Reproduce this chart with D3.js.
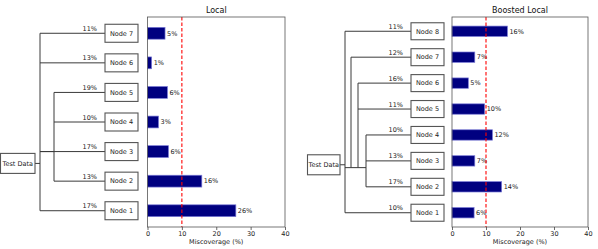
<!DOCTYPE html>
<html>
<head>
<meta charset="utf-8">
<script src="https://cdn.jsdelivr.net/npm/d3@7"></script>
<style>
    body { margin: 0; background: #fff; }
    svg { display: block; font-family: "DejaVu Sans", sans-serif; }
</style>
</head>
<body>
<svg id="chart" width="598" height="249"></svg>
<script>
// Local model: tree leaves listed top to bottom
var localNodes = ["Node 7", "Node 6", "Node 5", "Node 4", "Node 3", "Node 2", "Node 1"];
var localMiscoverage = [5.1, 1.2, 5.8, 3.2, 6.1, 15.8, 25.7];
var localLabels = ["5%", "1%", "6%", "3%", "6%", "16%", "26%"];
var localSplit = ["11%", "13%", "19%", "10%", "17%", "13%", "17%"];
var localLevel = [0, 0, 1, 1, 0, 1, 0];

// Boosted local model
var boostedNodes = ["Node 8", "Node 7", "Node 6", "Node 5", "Node 4", "Node 3", "Node 2", "Node 1"];
var boostedMiscoverage = [16.3, 6.7, 4.8, 9.6, 11.9, 6.7, 14.6, 6.5];
var boostedLabels = ["16%", "7%", "5%", "10%", "12%", "7%", "14%", "6%"];
var boostedSplit = ["11%", "12%", "16%", "11%", "10%", "13%", "17%", "10%"];
var boostedLevel = [0, 1, 2, 2, 3, 3, 3, 0];

var xTicks = [0, 10, 20, 30, 40];
var target = 10;

var svg = d3.select("#chart");

draw_panel({
    title: "Local", nodes: localNodes, values: localMiscoverage, labels: localLabels,
    split: localSplit, level: localLevel,
    rootPos: 1.6, joinPos: 2, levelOffset: [5, 19],
    rootX: 0, rootW: 35, boxX: 105, boxW: 33, boxH: 18,
    plotLeft: 147.5, plotRight: 285
});

draw_panel({
    title: "Boosted Local", nodes: boostedNodes, values: boostedMiscoverage, labels: boostedLabels,
    split: boostedSplit, level: boostedLevel,
    rootPos: 1.85, joinPos: 1.74, levelOffset: [5, 11, 18, 26],
    rootX: 307, rootW: 33, boxX: 411, boxW: 33, boxH: 17,
    plotLeft: 452, plotRight: 588
});

function draw_panel(cfg) {
    var n = cfg.nodes.length;
    var top = 17, bottom = 227;

    // position 0 is the bottom leaf
    var y = d3.scaleLinear().domain([-0.55, n - 1 + 0.55]).range([bottom, top]);
    var x = d3.scaleLinear().domain([0, 40]).range([cfg.plotLeft, cfg.plotRight]);
    var pos = function(i) { return n - 1 - i; };

    var g = svg.append("g");

    // ---- tree ----
    var trunkX = cfg.levelOffset.map(function(o) { return cfg.rootX + cfg.rootW + o; });
    var rootY = y(cfg.rootPos);
    var joinY = y(cfg.joinPos);

    var tree = g.append("g").attr("stroke", "#3a3a3a").attr("stroke-width", 1).attr("fill", "none");

    trunkX.forEach(function(tx, lv) {
        var ys = [];
        cfg.level.forEach(function(l, i) { if (l === lv) ys.push(y(pos(i))); });
        ys.push(joinY);
        tree.append("line")
            .attr("x1", tx).attr("x2", tx)
            .attr("y1", d3.min(ys)).attr("y2", d3.max(ys));
    });

    // connector across trunks
    tree.append("line")
        .attr("x1", trunkX[0]).attr("x2", trunkX[trunkX.length - 1])
        .attr("y1", joinY).attr("y2", joinY);

    // root to first trunk
    tree.append("line")
        .attr("x1", cfg.rootX + cfg.rootW).attr("x2", trunkX[0])
        .attr("y1", rootY).attr("y2", rootY);

    // branches to leaves
    cfg.nodes.forEach(function(name, i) {
        var yy = y(pos(i));
        tree.append("line")
            .attr("x1", trunkX[cfg.level[i]]).attr("x2", cfg.boxX)
            .attr("y1", yy).attr("y2", yy);
        g.append("text")
            .attr("x", cfg.boxX - 8).attr("y", yy - 2.5)
            .attr("text-anchor", "end")
            .attr("font-size", 6.5).attr("fill", "#222")
            .text(cfg.split[i]);
    });

    // root box
    g.append("rect")
        .attr("x", cfg.rootX + 0.5).attr("y", rootY - 10)
        .attr("width", cfg.rootW - 0.5).attr("height", 20)
        .attr("fill", "#fff").attr("stroke", "#555").attr("stroke-width", 1.1);
    g.append("text")
        .attr("x", cfg.rootX + cfg.rootW / 2 + 0.3).attr("y", rootY + 2.3)
        .attr("text-anchor", "middle").attr("font-size", 6.5).attr("fill", "#222")
        .text("Test Data");

    // leaf boxes
    var leaf = g.selectAll(".leaf").data(cfg.nodes).enter().append("g");
    leaf.append("rect")
        .attr("x", cfg.boxX).attr("y", function(d, i) { return y(pos(i)) - cfg.boxH / 2; })
        .attr("width", cfg.boxW).attr("height", cfg.boxH)
        .attr("fill", "#fff").attr("stroke", "#555").attr("stroke-width", 1.1);
    leaf.append("text")
        .attr("x", cfg.boxX + cfg.boxW / 2).attr("y", function(d, i) { return y(pos(i)) + 2.3; })
        .attr("text-anchor", "middle").attr("font-size", 6.5).attr("fill", "#222")
        .text(function(d) { return d; });

    // ---- bar chart ----
    var bh = y(0) - y(0.4);
    g.selectAll(".bar").data(cfg.values).enter().append("rect")
        .attr("x", x(0))
        .attr("y", function(d, i) { return y(pos(i)) - bh / 2; })
        .attr("width", function(d) { return x(d) - x(0); })
        .attr("height", bh)
        .attr("fill", "#000080")
        .attr("stroke", "#7a7ad6").attr("stroke-width", 0.7);

    g.selectAll(".val").data(cfg.values).enter().append("text")
        .attr("x", function(d) { return x(d) + 2; })
        .attr("y", function(d, i) { return y(pos(i)) + 2.3; })
        .attr("font-size", 6.5).attr("fill", "#222")
        .text(function(d, i) { return cfg.labels[i]; });

    // target line
    g.append("line")
        .attr("x1", x(target)).attr("x2", x(target))
        .attr("y1", top).attr("y2", bottom)
        .attr("stroke", "#f00").attr("stroke-width", 1.1)
        .attr("stroke-dasharray", "3.5,2");

    // frame
    g.append("rect")
        .attr("x", x(0)).attr("y", top)
        .attr("width", x(40) - x(0)).attr("height", bottom - top)
        .attr("fill", "none").attr("stroke", "#555").attr("stroke-width", 0.8);

    var axis = g.append("g")
        .attr("transform", "translate(0," + bottom + ")")
        .call(d3.axisBottom(x).tickValues(xTicks).tickSize(3).tickPadding(1.5));
    axis.select(".domain").remove();
    axis.selectAll("line").attr("stroke", "#444").attr("stroke-width", 0.8);
    axis.selectAll("text").attr("font-size", 6.5).attr("fill", "#222")
        .attr("font-family", "DejaVu Sans, sans-serif");

    g.append("text")
        .attr("x", (x(0) + x(40)) / 2).attr("y", 244)
        .attr("text-anchor", "middle").attr("font-size", 6.5).attr("fill", "#222")
        .text("Miscoverage (%)");

    g.append("text")
        .attr("x", (x(0) + x(40)) / 2).attr("y", 13)
        .attr("text-anchor", "middle").attr("font-size", 8).attr("fill", "#111")
        .text(cfg.title);
}
</script>
</body>
</html>
